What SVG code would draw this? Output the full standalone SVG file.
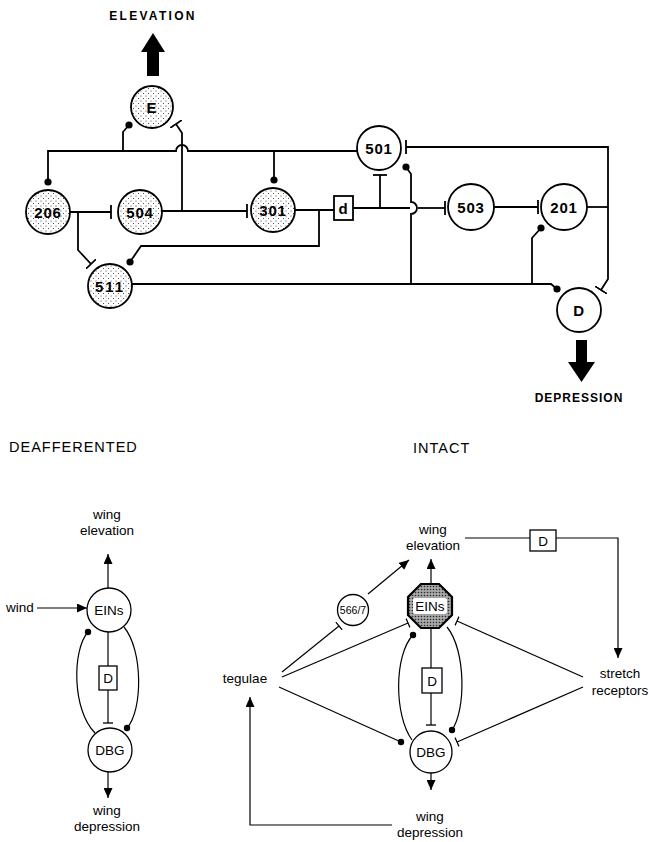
<svg xmlns="http://www.w3.org/2000/svg" width="649" height="842" viewBox="0 0 649 842">
<defs>
<pattern id="stip" width="5" height="5" patternUnits="userSpaceOnUse">
<rect width="5" height="5" fill="#fff"/>
<circle cx="1" cy="1" r="0.55" fill="#333"/>
<circle cx="3.5" cy="3.5" r="0.55" fill="#333"/>
</pattern>
<pattern id="dark" width="3" height="3" patternUnits="userSpaceOnUse">
<rect width="3" height="3" fill="#a8a8a8"/>
<circle cx="1.5" cy="1.5" r="0.8" fill="#2a2a2a"/>
</pattern>
<marker id="bar" viewBox="-1 -7 2 14" refX="0" refY="0" markerWidth="2" markerHeight="14" markerUnits="userSpaceOnUse" orient="auto"><path d="M0,-7V7" stroke="#000" stroke-width="1.8"/></marker>
<marker id="dot" viewBox="-4 -4 8 8" refX="0" refY="0" markerWidth="8" markerHeight="8" markerUnits="userSpaceOnUse"><circle r="3.6" fill="#000"/></marker>
<marker id="barS" viewBox="-1 -5 2 10" refX="0" refY="0" markerWidth="2" markerHeight="10" markerUnits="userSpaceOnUse" orient="auto"><path d="M0,-5V5" stroke="#000" stroke-width="1.3"/></marker>
<marker id="dotS" viewBox="-4 -4 8 8" refX="0" refY="0" markerWidth="8" markerHeight="8" markerUnits="userSpaceOnUse"><circle r="3.2" fill="#000"/></marker>
<marker id="arrS" viewBox="-10 -4.5 10 9" refX="0" refY="0" markerWidth="10" markerHeight="9" markerUnits="userSpaceOnUse" orient="auto"><path d="M-10,-4.5L0,0L-10,4.5Z" fill="#000"/></marker>
</defs>
<style>
.ln{fill:none;stroke:#000;stroke-width:1.8}
.lb{fill:none;stroke:#000;stroke-width:1.2}
.ns{fill:url(#stip);stroke:#000;stroke-width:1.8}
.nw{fill:#fff;stroke:#000;stroke-width:1.8}
.nb{fill:#fff;stroke:#000;stroke-width:1.3}
.num{font-family:"Liberation Sans",Arial,sans-serif;font-weight:bold;font-size:15px;text-anchor:middle;letter-spacing:0.8px}
.lab{font-family:"Liberation Sans",Arial,sans-serif;font-size:13.5px;text-anchor:middle}
.ttl{font-family:"Liberation Sans",Arial,sans-serif;font-weight:bold;font-size:12px;text-anchor:middle}
.hd{font-family:"Liberation Sans",Arial,sans-serif;font-size:14.5px;letter-spacing:1px}
</style>
<rect width="649" height="842" fill="#fff"/>

<g id="connectors">
<path class="ln" d="M48,182 V151 H176 A6,6 0 0 1 188,151 H357" marker-start="url(#dot)"/>
<path class="ln" d="M123,151 V132 L129,125" marker-end="url(#dot)"/>
<path class="ln" d="M182,211 V133 L176,124" marker-end="url(#bar)"/>
<path class="ln" d="M274,151 V180" marker-end="url(#dot)"/>
<path class="ln" d="M70,212 H111" marker-end="url(#bar)"/>
<path class="ln" d="M78,212 V250 L91,264" marker-end="url(#bar)"/>
<path class="ln" d="M162,211 H247" marker-end="url(#bar)"/>
<path class="ln" d="M295,210 H334"/>
<path class="ln" d="M319,210 V246 H141 L130,262" marker-end="url(#dot)"/>
<path class="ln" d="M353,208 H410"/>
<path class="ln" d="M418,208 H445" marker-end="url(#bar)"/>
<path class="ln" d="M380,208 V175" marker-end="url(#bar)"/>
<path class="ln" d="M411,284 V214 A6,6 0 0 0 411,202 V174 L406,167" marker-end="url(#dot)"/>
<path class="ln" d="M132,284 H551 L557,289" marker-end="url(#dot)"/>
<path class="ln" d="M532,284 V238 L541,228" marker-end="url(#dot)"/>
<path class="ln" d="M406,147 H608 V279 L601,290" marker-start="url(#bar)" marker-end="url(#bar)"/>
<path class="ln" d="M587,207 H608"/>
<path class="ln" d="M494,207 H538" marker-end="url(#bar)"/>

<path class="lb" d="M108,588 V554" marker-end="url(#arrS)"/>
<path class="lb" d="M37,608 H87" marker-end="url(#arrS)"/>
<path class="lb" d="M108,632 V666"/>
<path class="lb" d="M108,690 V723" marker-end="url(#barS)"/>
<path class="lb" d="M95,733 C72,710 72,650 88,632" marker-end="url(#dotS)"/>
<path class="lb" d="M124,627 C143,650 143,710 127,728" marker-end="url(#dotS)"/>
<path class="lb" d="M108,772 V798" marker-end="url(#arrS)"/>

<path class="lb" d="M465,538 H530"/>
<path class="lb" d="M556,538 H618 V658" marker-end="url(#arrS)"/>
<path class="lb" d="M431,585 V559" marker-end="url(#arrS)"/>
<path class="lb" d="M368,594 L409,560" marker-end="url(#arrS)"/>
<path class="lb" d="M282,672 L339,626" marker-end="url(#barS)"/>
<path class="lb" d="M282,677 L408,623" marker-end="url(#barS)"/>
<path class="lb" d="M279,687 L401,742" marker-end="url(#dotS)"/>
<path class="lb" d="M583,677 L457,621" marker-end="url(#barS)"/>
<path class="lb" d="M583,687 L457,742" marker-end="url(#barS)"/>
<path class="lb" d="M431,628 V668"/>
<path class="lb" d="M431,693 V725" marker-end="url(#barS)"/>
<path class="lb" d="M412,740 C394,715 394,655 413,635" marker-end="url(#dotS)"/>
<path class="lb" d="M447,627 C466,650 466,710 452,730" marker-end="url(#dotS)"/>
<path class="lb" d="M431,773 V790" marker-end="url(#arrS)"/>
<path class="lb" d="M392,825 H250 V697" marker-end="url(#arrS)"/>
</g>

<g id="elevation-out">
<text class="ttl" x="153" y="20" style="letter-spacing:2.3px">ELEVATION</text>
<path d="M147,76 V52 H141 L153,33 L165,52 H159 V76 Z" fill="#000"/>
</g>
<g id="depression-out">
<path d="M576,340 H587 V362 H595 L581.5,382 L568,362 H576 Z" fill="#000"/>
<text class="ttl" x="579" y="402" style="letter-spacing:1px">DEPRESSION</text>
</g>

<g id="nE"><circle class="ns" cx="152" cy="107" r="21"/><text class="num" x="152" y="112.5">E</text></g>
<g id="n206"><circle class="ns" cx="48" cy="212" r="22"/><text class="num" x="48" y="217.5">206</text></g>
<g id="n504"><circle class="ns" cx="140" cy="212" r="22"/><text class="num" x="140" y="217.5">504</text></g>
<g id="n301"><circle class="ns" cx="273" cy="210" r="22"/><text class="num" x="273" y="215.5">301</text></g>
<g id="n511"><circle class="ns" cx="110" cy="286" r="22"/><text class="num" x="110" y="291.5" style="letter-spacing:2px">511</text></g>
<g id="n501"><circle class="nw" cx="379" cy="148" r="22"/><text class="num" x="379" y="153.5">501</text></g>
<g id="nd"><rect class="nw" x="334" y="196" width="19" height="24"/><text class="num" x="343.5" y="213.5">d</text></g>
<g id="n503"><circle class="nw" cx="471" cy="207" r="23"/><text class="num" x="471" y="212.5">503</text></g>
<g id="n201"><circle class="nw" cx="564" cy="207" r="23"/><text class="num" x="564" y="212.5">201</text></g>
<g id="nD"><circle class="nw" cx="579" cy="310" r="22"/><text class="num" x="579" y="315.5">D</text></g>

<g id="title-deaff"><text class="hd" x="9" y="452">DEAFFERENTED</text></g>
<g id="title-intact"><text class="hd" x="413" y="453">INTACT</text></g>

<g id="L-wingelev"><text class="lab" x="107" y="519">wing</text><text class="lab" x="107" y="535">elevation</text></g>
<g id="L-wind"><text class="lab" x="6" y="612" style="text-anchor:start">wind</text></g>
<g id="L-EINs"><circle class="nb" cx="109" cy="610" r="22"/><text class="lab" x="109" y="615">EINs</text></g>
<g id="L-D"><rect class="nb" x="99" y="666" width="18" height="24"/><text class="lab" x="108" y="683">D</text></g>
<g id="L-DBG"><circle class="nb" cx="110" cy="750" r="22"/><text class="lab" x="110" y="755">DBG</text></g>
<g id="L-wingdep"><text class="lab" x="107" y="815">wing</text><text class="lab" x="107" y="831">depression</text></g>

<g id="R-wingelev"><text class="lab" x="433" y="534">wing</text><text class="lab" x="433" y="550">elevation</text></g>
<g id="R-Dbox"><rect class="nb" x="530" y="530" width="26" height="21"/><text class="lab" x="543" y="545.5">D</text></g>
<g id="R-stretch"><text class="lab" x="620" y="678">stretch</text><text class="lab" x="620" y="695">receptors</text></g>
<g id="R-tegulae"><text class="lab" x="245" y="683">tegulae</text></g>
<g id="R-566"><circle class="nb" cx="353" cy="610" r="15.5"/><text class="lab" x="353" y="614" style="font-size:10.5px">566/7</text></g>
<g id="R-EINs"><path d="M421,584 H439 L452,597 V615 L439,628 H421 L408,615 V597 Z" fill="url(#dark)" stroke="#000" stroke-width="2.2"/><rect x="413" y="598" width="34" height="16" rx="2" fill="#fff"/><text class="lab" x="430" y="611">EINs</text></g>
<g id="R-D"><rect class="nb" x="422" y="668" width="20" height="25"/><text class="lab" x="432" y="685.5">D</text></g>
<g id="R-DBG"><circle class="nb" cx="431" cy="752" r="21"/><text class="lab" x="431" y="757">DBG</text></g>
<g id="R-wingdep"><text class="lab" x="430" y="821">wing</text><text class="lab" x="430" y="837">depression</text></g>
</svg>
